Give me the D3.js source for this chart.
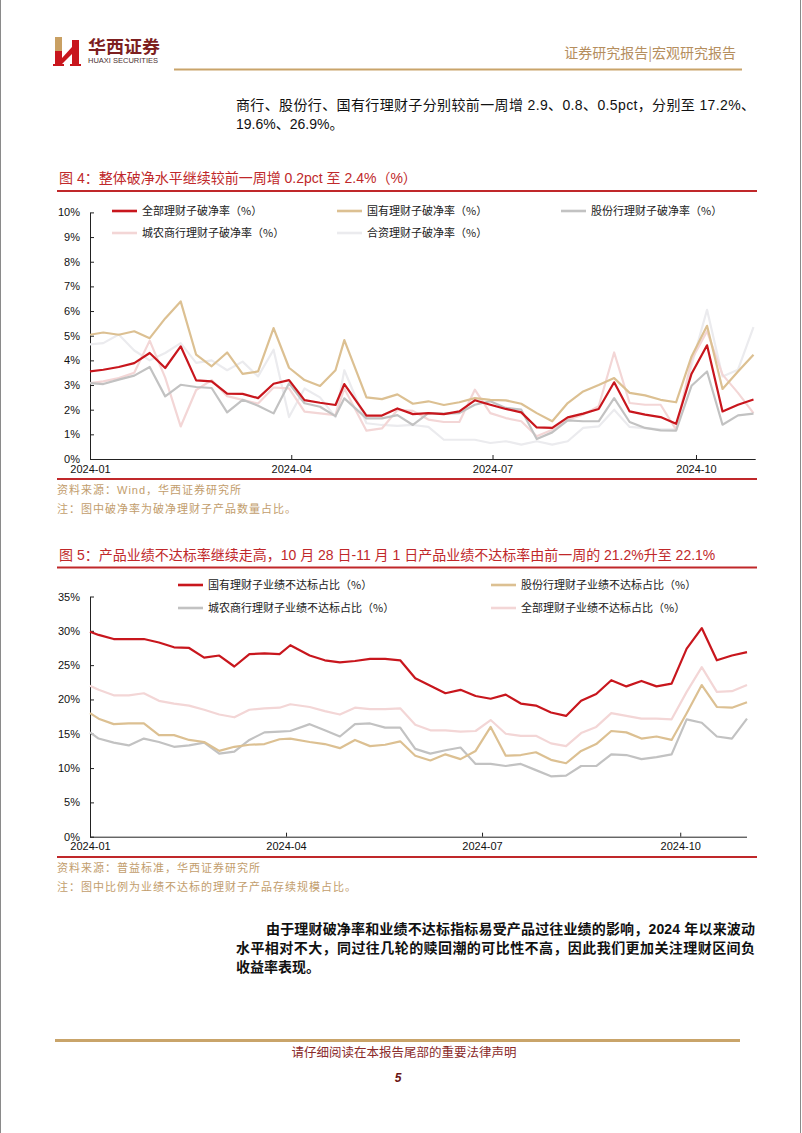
<!DOCTYPE html>
<html><head><meta charset="utf-8">
<script src="https://cdn.jsdelivr.net/npm/d3@7/dist/d3.min.js"></script>
<style>
html,body{margin:0;padding:0;background:#fff;}
svg{display:block;}
</style></head><body>
<svg id="page" width="802" height="1133"></svg>
<script>
// ---------------- DATA ----------------
// Chart 1 (图4) – weekly dates
const c1Dates = ["2024-01-01","2024-01-07","2024-01-14","2024-01-21","2024-01-28","2024-02-04","2024-02-11","2024-02-18","2024-02-25","2024-03-03","2024-03-10","2024-03-17","2024-03-24","2024-03-31","2024-04-07","2024-04-14","2024-04-21","2024-04-25","2024-05-05","2024-05-12","2024-05-19","2024-05-26","2024-06-02","2024-06-09","2024-06-16","2024-06-23","2024-06-30","2024-07-07","2024-07-14","2024-07-21","2024-07-28","2024-08-04","2024-08-11","2024-08-18","2024-08-25","2024-09-01","2024-09-08","2024-09-15","2024-09-22","2024-09-29","2024-10-06","2024-10-13","2024-10-20","2024-10-27"];
const c1AllPB = [3.55,3.62,3.73,3.89,4.3,3.69,4.57,3.19,3.15,2.65,2.64,2.47,3.05,3.2,2.39,2.28,2.19,3.04,1.76,1.76,2.05,1.82,1.86,1.82,1.93,2.38,2.2,2.03,1.89,1.28,1.26,1.69,1.84,2.03,3.11,1.93,1.8,1.7,1.43,3.46,4.61,1.93,2.2,2.41];
const c1StatePB = [5.04,5.13,5.04,5.18,4.9,5.7,6.39,4.23,3.76,4.32,3.45,3.55,5.31,3.7,3.2,2.96,3.6,4.82,2.5,2.43,2.62,2.24,2.34,2.19,2.3,2.47,2.4,2.38,2.24,1.86,1.53,2.27,2.74,3.0,3.28,2.68,2.58,2.4,2.3,4.16,5.4,2.84,3.55,4.23];
const c1JointPB = [3.08,3.04,3.22,3.38,3.73,2.54,3.01,2.92,2.88,1.89,2.4,2.16,1.85,3.07,2.26,2.12,1.74,2.46,1.65,1.65,1.78,1.38,1.86,1.84,1.86,2.2,2.34,2.07,2.0,0.81,1.08,1.57,1.53,1.53,2.47,1.5,1.26,1.16,1.15,2.97,3.55,1.39,1.77,1.84];
const c1RuralPB = [3.08,3.15,3.28,3.5,4.8,3.3,1.32,2.8,3.2,2.55,2.4,2.25,2.9,2.86,1.92,1.85,1.78,2.86,1.15,1.24,1.99,1.95,1.6,1.5,1.5,2.81,1.86,1.66,1.53,0.92,1.19,1.59,1.8,2.14,4.32,2.27,2.2,2.2,1.19,4.03,5.18,3.42,2.68,1.86];
const c1ForeignPB = [4.65,4.7,5.05,4.4,4.0,4.3,4.7,3.9,4.0,3.6,3.95,3.35,4.43,1.7,2.86,2.5,1.7,3.6,1.45,1.38,1.34,1.38,1.3,0.78,0.78,0.78,0.65,0.72,0.58,0.72,0.58,0.72,1.26,1.32,2.0,1.3,1.25,1.2,1.2,3.8,6.05,3.35,3.62,5.35];
const c1XTicks = ["2024-01-01","2024-04-01","2024-07-01","2024-10-01"];
const c1YTicks = [0,1,2,3,4,5,6,7,8,9,10];
const c1Names = ["全部理财子破净率（%）","国有理财子破净率（%）","股份行理财子破净率（%）","城农商行理财子破净率（%）","合资理财子破净率（%）"];

// Chart 2 (图5)
const c2Dates = ["2024-01-01","2024-01-05","2024-01-12","2024-01-19","2024-01-26","2024-02-02","2024-02-09","2024-02-16","2024-02-23","2024-03-01","2024-03-08","2024-03-15","2024-03-22","2024-03-29","2024-04-03","2024-04-12","2024-04-19","2024-04-26","2024-05-03","2024-05-10","2024-05-17","2024-05-24","2024-05-31","2024-06-07","2024-06-14","2024-06-21","2024-06-28","2024-07-05","2024-07-12","2024-07-19","2024-07-26","2024-08-02","2024-08-09","2024-08-16","2024-08-23","2024-08-30","2024-09-06","2024-09-13","2024-09-20","2024-09-27","2024-10-04","2024-10-11","2024-10-18","2024-10-25","2024-11-01"];
const c2State = [29.87,29.4,28.8,28.8,28.8,28.3,27.6,27.5,26.1,26.4,24.8,26.6,26.7,26.6,27.9,26.4,25.7,25.4,25.6,25.9,25.9,25.7,23.1,22.0,20.9,21.4,20.5,20.1,20.7,19.4,19.1,18.1,17.6,19.8,20.8,22.8,21.9,22.7,21.9,22.3,27.4,30.4,25.7,26.4,26.9];
const c2Joint = [18.0,17.2,16.4,16.5,16.5,14.8,14.8,14.1,13.8,12.5,13.1,13.4,13.5,14.2,14.3,13.8,13.5,12.9,14.1,13.2,13.4,13.9,11.8,11.1,12.0,11.3,12.5,16.0,11.8,11.9,12.3,11.2,10.7,12.5,13.5,15.4,15.2,14.3,14.6,14.1,18.0,22.1,18.9,18.8,19.6];
const c2Rural = [15.2,14.3,13.7,13.3,14.3,13.8,13.1,13.3,13.7,12.1,12.4,14.1,15.2,15.3,15.4,16.4,15.5,14.6,16.4,16.5,15.9,15.9,12.8,12.1,12.6,13.0,10.6,10.6,10.3,10.6,9.7,8.8,8.9,10.3,10.3,12.0,11.9,11.3,11.6,12.0,17.1,16.6,14.6,14.3,17.2];
const c2All = [22.0,21.4,20.6,20.6,20.9,19.8,19.4,19.1,18.5,17.8,17.4,18.5,18.7,18.8,19.3,18.9,18.3,17.8,18.8,18.6,18.6,18.7,16.3,15.5,15.5,15.3,15.4,17.0,15.0,14.7,14.7,13.6,13.2,15.1,16.0,18.0,17.6,17.2,17.2,17.1,21.1,24.7,21.1,21.2,22.1];
const c2XTicks = ["2024-01-01","2024-04-01","2024-07-01","2024-10-01"];
const c2YTicks = [0,5,10,15,20,25,30,35];
const c2Names = ["国有理财子业绩不达标占比（%）","股份行理财子业绩不达标占比（%）","城农商行理财子业绩不达标占比（%）","全部理财子业绩不达标占比（%）"];

// ---------------- STYLE ----------------
const RED = "#c8161d", BEIGE = "#dcc092", GRAY = "#c2c2c2", PINK = "#f3d6d6", LIGHT = "#ebebee";
const TITLE_RED = "#c0282a", TAN = "#c29d6c", GOLD = "#c9a46a";
const FONT = "'Liberation Sans', Arial, 'Noto Sans CJK SC', sans-serif";
const CJK = "'Noto Sans CJK SC', sans-serif";

const parse = d3.utcParse("%Y-%m-%d");
const svg = d3.select("#page");
svg.append("rect").attr("width",802).attr("height",1133).attr("fill","#fff");

// page borders
svg.append("line").attr("x1",0.5).attr("x2",0.5).attr("y1",0).attr("y2",1133).attr("stroke","#8a8a8a");
svg.append("line").attr("x1",800.5).attr("x2",800.5).attr("y1",0).attr("y2",1133).attr("stroke","#8a8a8a");

// ---------------- HEADER ----------------
const logo = svg.append("g");
logo.append("rect").attr("x",55).attr("y",37).attr("width",7).attr("height",14).attr("fill","#c9a063");
logo.append("rect").attr("x",55).attr("y",51).attr("width",7).attr("height",15).attr("fill","#c8161d");
logo.append("polygon").attr("points","62,58 72,47 72,54 62,64").attr("fill","#c8161d");
logo.append("rect").attr("x",72).attr("y",40).attr("width",7).attr("height",26).attr("fill","#c8161d");
logo.append("rect").attr("x",53).attr("y",64).attr("width",11).attr("height",2).attr("fill","#c8161d");
logo.append("rect").attr("x",70).attr("y",64).attr("width",11).attr("height",2).attr("fill","#c8161d");

svg.append("text").attr("x",88).attr("y",53).text("华西证券")
  .attr("font-family",CJK).attr("font-weight","bold").attr("font-size",17.5).attr("fill","#7d1f1f")
  .attr("textLength",72).attr("lengthAdjust","spacingAndGlyphs");
svg.append("text").attr("x",88).attr("y",63).text("HUAXI SECURITIES")
  .attr("font-family",FONT).attr("font-size",7).attr("fill","#4a3030")
  .attr("textLength",70).attr("lengthAdjust","spacingAndGlyphs");
svg.append("text").attr("x",736).attr("y",58).attr("text-anchor","end").text("证券研究报告|宏观研究报告")
  .attr("font-family",CJK).attr("font-size",14).attr("fill","#b58e5e");
svg.append("line").attr("x1",174).attr("x2",742).attr("y1",69.5).attr("y2",69.5).attr("stroke",GOLD).attr("stroke-width",2);

// body text top
svg.append("text").attr("x",236).attr("y",110).text("商行、股份行、国有行理财子分别较前一周增 2.9、0.8、0.5pct，分别至 17.2%、")
  .attr("font-family",FONT).attr("font-size",14).attr("fill","#111")
  .attr("textLength",519).attr("lengthAdjust","spacing");
svg.append("text").attr("x",236).attr("y",129).text("19.6%、26.9%。")
  .attr("font-family",FONT).attr("font-size",14).attr("fill","#111");

// ---------------- CHART FUNCTION ----------------
function drawChart(o){
  const g = svg.append("g");
  // title
  g.append("text").attr("x",59).attr("y",o.titleY).text(o.title)
    .attr("font-family",FONT).attr("font-size",14).attr("fill",TITLE_RED);
  g.append("line").attr("x1",57).attr("x2",757).attr("y1",o.titleLineY).attr("y2",o.titleLineY)
    .attr("stroke",TITLE_RED).attr("stroke-width",1.8);

  const x = d3.scaleUtc().domain(o.xDomain.map(parse)).range(o.xRange);
  const y = d3.scaleLinear().domain(o.yDomain).range(o.yRange);

  // axes
  const ax = g.append("g").attr("transform",`translate(0,${o.yRange[0]})`)
    .call(d3.axisBottom(x).tickValues(o.xTicks.map(parse)).tickFormat(d3.utcFormat("%Y-%m"))
      .tickSize(-4).tickSizeOuter(0).tickPadding(6));
  const ay = g.append("g").attr("transform",`translate(${o.xRange[0]},0)`)
    .call(d3.axisLeft(y).tickValues(o.yTicks).tickFormat(d => d + "%")
      .tickSize(-4).tickSizeOuter(0).tickPadding(10));
  [ax, ay].forEach(a => {
    a.select(".domain").attr("stroke","#222");
    a.selectAll(".tick line").attr("stroke","#222");
    a.selectAll("text").attr("font-family",FONT).attr("font-size",11).attr("fill","#111");
  });
  ax.select(".domain").attr("d", `M${o.xRange[0]},0.5H${o.xRange[1]}`);

  // lines
  const dates = o.dates.map(parse);
  o.series.slice().reverse().forEach(s => {
    const line = d3.line().x((d,i) => x(dates[i])).y(d => y(d));
    g.append("path").datum(s.values).attr("d",line).attr("fill","none")
      .attr("stroke",s.color).attr("stroke-width",s.width).attr("stroke-linejoin","round");
  });

  // legend
  o.legend.forEach((L,i) => {
    const s = o.series[L.idx];
    g.append("line").attr("x1",L.x).attr("x2",L.x+25).attr("y1",L.y).attr("y2",L.y)
      .attr("stroke",s.color).attr("stroke-width",2.6);
    g.append("text").attr("x",L.x+30).attr("y",L.y).attr("dy","0.36em").text(s.name)
      .attr("font-family",CJK).attr("font-size",11).attr("fill","#222");
  });

  // bottom rule and notes
  g.append("line").attr("x1",57).attr("x2",757).attr("y1",o.bottomY).attr("y2",o.bottomY)
    .attr("stroke",TITLE_RED).attr("stroke-width",1.8);
  o.notes.forEach((t,i) => {
    g.append("text").attr("x",57).attr("y",o.bottomY + 15 + i*18.5).text(t)
      .attr("font-family",FONT).attr("font-size",11).attr("letter-spacing",1).attr("fill",TAN);
  });
}

drawChart({
  title: "图 4：整体破净水平继续较前一周增 0.2pct 至 2.4%（%）",
  titleY: 183, titleLineY: 191,
  dates: c1Dates,
  xDomain: ["2024-01-01","2024-10-28"], xRange: [90, 755.7],
  yDomain: [0,10], yRange: [459, 212.4],
  xTicks: c1XTicks, yTicks: c1YTicks,
  series: [
    {values:c1AllPB, color:RED, width:2.2, name:c1Names[0]},
    {values:c1StatePB, color:BEIGE, width:2.2, name:c1Names[1]},
    {values:c1JointPB, color:GRAY, width:2.2, name:c1Names[2]},
    {values:c1RuralPB, color:PINK, width:2.2, name:c1Names[3]},
    {values:c1ForeignPB, color:LIGHT, width:2.2, name:c1Names[4]}
  ],
  legend: [
    {idx:0, x:112, y:211}, {idx:1, x:337, y:211}, {idx:2, x:561, y:211},
    {idx:3, x:112, y:233}, {idx:4, x:337, y:233}
  ],
  bottomY: 479,
  notes: ["资料来源：Wind，华西证券研究所", "注：图中破净率为破净理财子产品数量占比。"]
});

drawChart({
  title: "图 5：产品业绩不达标率继续走高，10 月 28 日-11 月 1 日产品业绩不达标率由前一周的 21.2%升至 22.1%",
  titleY: 560, titleLineY: 567.5,
  dates: c2Dates,
  xDomain: ["2024-01-01","2024-11-01"], xRange: [90, 747],
  yDomain: [0,35], yRange: [836.7, 596.5],
  xTicks: c2XTicks, yTicks: c2YTicks,
  series: [
    {values:c2State, color:RED, width:2.2, name:c2Names[0]},
    {values:c2Joint, color:BEIGE, width:2.2, name:c2Names[1]},
    {values:c2Rural, color:GRAY, width:2.2, name:c2Names[2]},
    {values:c2All, color:PINK, width:2.2, name:c2Names[3]}
  ],
  legend: [
    {idx:0, x:178, y:585}, {idx:1, x:491, y:585},
    {idx:2, x:178, y:608}, {idx:3, x:491, y:608}
  ],
  bottomY: 857,
  notes: ["资料来源：普益标准，华西证券研究所", "注：图中比例为业绩不达标的理财子产品存续规模占比。"]
});

// ---------------- PARAGRAPH ----------------
const para = [
  {x:266, y:934, w:489, t:"由于理财破净率和业绩不达标指标易受产品过往业绩的影响，2024 年以来波动"},
  {x:236, y:953, w:519, t:"水平相对不大，同过往几轮的赎回潮的可比性不高，因此我们更加关注理财区间负"},
  {x:236, y:972, w:null, t:"收益率表现。"}
];
para.forEach(p => {
  const t = svg.append("text").attr("x",p.x).attr("y",p.y).text(p.t)
    .attr("font-family",FONT).attr("font-size",14).attr("font-weight","bold").attr("fill","#111");
  if (p.w) t.attr("textLength",p.w).attr("lengthAdjust","spacing");
});

// ---------------- FOOTER ----------------
svg.append("line").attr("x1",55).attr("x2",740).attr("y1",1040.5).attr("y2",1040.5).attr("stroke",GOLD).attr("stroke-width",3);
svg.append("text").attr("x",404).attr("y",1057).attr("text-anchor","middle").text("请仔细阅读在本报告尾部的重要法律声明")
  .attr("font-family",CJK).attr("font-size",12.5).attr("fill","#8a2a2a");
svg.append("text").attr("x",398).attr("y",1082).attr("text-anchor","middle").text("5")
  .attr("font-family",FONT).attr("font-size",12).attr("font-weight","bold").attr("font-style","italic").attr("fill","#6b1515");
</script>
</body></html>
